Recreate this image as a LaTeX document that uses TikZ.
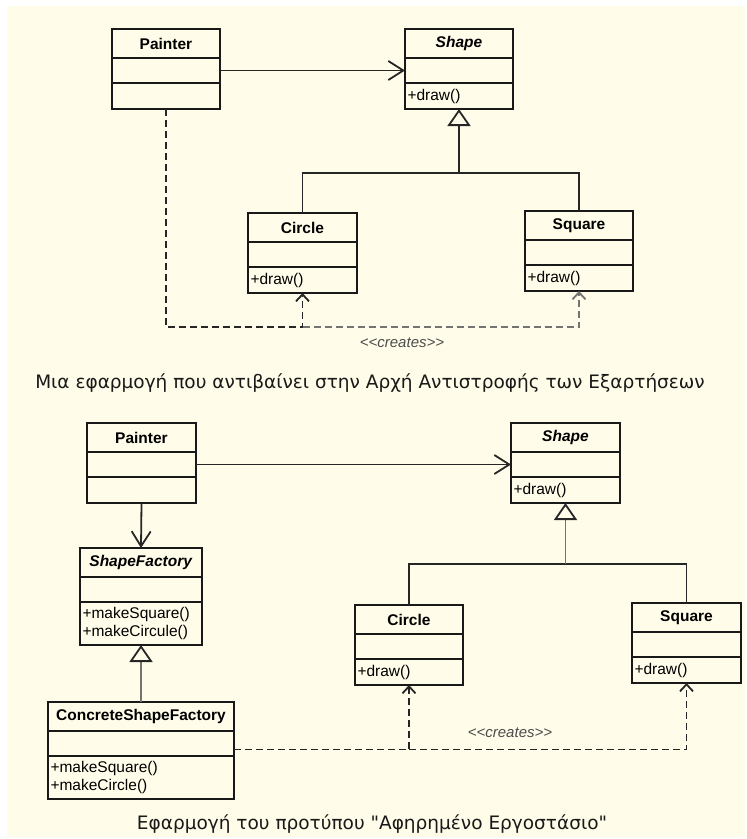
\documentclass[tikz,border=0pt]{standalone}
\usepackage{fontspec}
\setsansfont{Liberation Sans}
\newfontfamily\captionfont{DejaVu Sans}
\usetikzlibrary{positioning,arrows.meta,calc}

\definecolor{paper}{RGB}{255,253,233}

\tikzset{
  clsbox/.style={draw=black!90, line width=2pt, outer sep=0pt, inner sep=0pt,
                 font=\sffamily\fontsize{15.5}{18}\selectfont},
  clsname/.style={clsbox, minimum height=29pt, font=\sffamily\bfseries\fontsize{15.5}{18}\selectfont},
  assoc/.style={-{Straight Barb[length=15pt,width=19pt]}, line width=1.8pt, draw=black!85},
  gen/.style={-{Triangle[open,length=17pt,width=23pt,color=black!85]}, line width=1.8pt, draw=#1},
  gen/.default=black!85,
  tree/.style={line width=1.8pt, draw=black!85},
  dep/.style={-{Straight Barb[length=7pt,width=13pt]}, dash pattern=on 7pt off 4pt,
              line width=1.8pt, draw=#1},
  dep/.default=black!85,
  creates/.style={font=\sffamily\itshape\fontsize{15}{18}\selectfont, text=black!70},
  caption/.style={font=\captionfont\fontsize{18.5}{22}\selectfont, text=black!90}
}

% one UML class: id, top-left corner, width, title, operations, height of the operations part
\newcommand\umlclass[6]{%
  \pgfmathsetlengthmacro\opswidth{#3-5}%
  \node[clsname, minimum width=#3, anchor=north west] (#1) at #2 {#4};
  \node[clsbox, minimum width=#3, minimum height=25pt, below=0pt of #1] (#1-a) {};
  \node[clsbox, minimum width=#3, minimum height=#6, text width=\opswidth,
        inner xsep=2.5pt, align=left, below=0pt of #1-a] (#1-m) {#5};
}

\begin{document}
\begin{tikzpicture}[x=1pt, y=-1pt]
\useasboundingbox (0,0) rectangle (747,839);
\fill[paper] (7,6) rectangle (745,837);

% --- direct dependency on the concrete shapes
\umlclass{painter1}{(112,29)}{108}{Painter}{}{26}
\umlclass{shape1}{(405,29)}{108}{\textit{Shape}}{+draw()}{26}
\umlclass{circle1}{(248,213)}{109}{Circle}{+draw()}{26}
\umlclass{square1}{(525,211)}{108}{Square}{+draw()}{26}

\draw[assoc] (painter1-a.east) -- (shape1-a.west);
\path (shape1-m.south) ++(0,64) coordinate (t1);
\draw[tree] (circle1.north) |- (t1) -| (square1.north);
\draw[gen] (t1) -- (shape1-m.south);

\path (painter1-m.south) ++(0,218) coordinate (d1);
\draw[dep] (painter1-m.south) -- (d1) -| (circle1-m.south);
\draw[dep=black!55] (circle1-m.south |- d1) -| (square1-m.south);
\node[creates] (lbl1) at (402,343) {<{}<creates>{}>};

\node[caption] (cap1) at (370,383)
  {Μια εφαρμογή που αντιβαίνει στην Αρχή Αντιστροφής των Εξαρτήσεων};

% --- abstract factory
\umlclass{painter2}{(87,423)}{109}{Painter}{}{26}
\umlclass{shape2}{(511,423)}{109}{\textit{Shape}}{+draw()}{26}
\umlclass{factory}{(80,548)}{122}{\textit{ShapeFactory}}{+makeSquare()\\+makeCircule()}{43}
\umlclass{concrete}{(48,702)}{186}{ConcreteShapeFactory}{+makeSquare()\\+makeCircle()}{43}
\umlclass{circle2}{(355,605)}{108}{Circle}{+draw()}{26}
\umlclass{square2}{(632,603)}{109}{Square}{+draw()}{26}

\draw[assoc] (painter2-a.east) -- (shape2-a.west);
\draw[assoc] (painter2-m.south) -- (factory.north);
\draw[gen=black!55] (concrete.north) -- (factory-m.south);

\path (shape2-m.south) ++(0,61) coordinate (t2);
\draw[tree] (circle2.north) |- (t2) -| (square2.north);
\draw[gen=black!55] (t2) -- (shape2-m.south);

\path (concrete-a.east) ++(0,6) coordinate (d2);
\draw[dep] (d2) -| (circle2-m.south);
\draw[dep] (circle2-m.south |- d2) -| (square2-m.south);
\node[creates] (lbl2) at (510,733) {<{}<creates>{}>};

\node[caption] (cap2) at (372,824)
  {Εφαρμογή του προτύπου "Αφηρημένο Εργοστάσιο"};
\end{tikzpicture}
\end{document}
